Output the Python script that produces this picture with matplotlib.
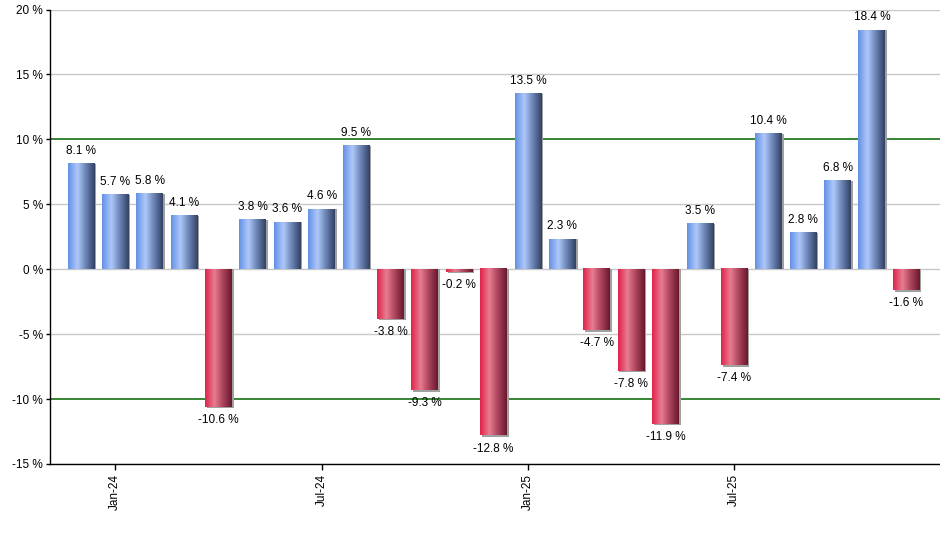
import matplotlib
matplotlib.use("Agg")
import matplotlib.pyplot as plt
import numpy as np
from matplotlib.colors import LinearSegmentedColormap
from matplotlib.patches import Rectangle

months = ["Dec-23", "Jan-24", "Feb-24", "Mar-24", "Apr-24", "May-24", "Jun-24", "Jul-24",
          "Aug-24", "Sep-24", "Oct-24", "Nov-24", "Dec-24", "Jan-25", "Feb-25", "Mar-25",
          "Apr-25", "May-25", "Jun-25", "Jul-25", "Aug-25", "Sep-25", "Oct-25", "Nov-25", "Dec-25"]
returns = [8.1, 5.7, 5.8, 4.1, -10.6, 3.8, 3.6, 4.6, 9.5, -3.8, -9.3, -0.2, -12.8,
           13.5, 2.3, -4.7, -7.8, -11.9, 3.5, -7.4, 10.4, 2.8, 6.8, 18.4, -1.6]
tick_labels = ["Jan-24", "Jul-24", "Jan-25", "Jul-25"]
y_ticks = [-15, -10, -5, 0, 5, 10, 15, 20]

plt.rcParams['font.family'] = ['Liberation Sans', 'DejaVu Sans']

fig = plt.figure(figsize=(9.4, 5.5), dpi=100)
ax = fig.add_axes([50/940, 86/550, 890/940, 454.5/550])

blue_cmap = LinearSegmentedColormap.from_list(
    "b", [(0.0, (100/255, 145/255, 230/255)), (0.35, (175/255, 200/255, 250/255)),
          (0.65, (110/255, 135/255, 185/255)), (1.0, (50/255, 65/255, 100/255))])
red_cmap = LinearSegmentedColormap.from_list(
    "r", [(0.0, (225/255, 35/255, 75/255)), (0.35, (232/255, 125/255, 145/255)),
          (0.65, (175/255, 70/255, 95/255)), (1.0, (105/255, 25/255, 45/255))])

grad = np.linspace(0, 1, 64).reshape(1, -1)
w = 0.78
x = np.arange(len(returns))
for xi, v in zip(x, returns):
    cmap = blue_cmap if v >= 0 else red_cmap
    lo, hi = (0, v) if v >= 0 else (v, 0)
    # shadow
    if v >= 0:
        ax.add_patch(Rectangle((xi - w/2 + 0.05, lo), w, hi - lo, color="#a0a0a0", zorder=2, lw=0))
    else:
        ax.add_patch(Rectangle((xi - w/2 + 0.05, lo - 0.12), w, hi - lo + 0.12, color="#a0a0a0", zorder=2, lw=0))
    ax.imshow(grad, cmap=cmap, extent=[xi - w/2, xi + w/2, lo, hi], aspect='auto',
              zorder=3, interpolation='bilinear')
    if v >= 0:
        ax.text(xi, v + 0.55, f"{v} %", ha='center', va='bottom', fontsize=8.5, zorder=4)
    else:
        ax.text(xi, v - 0.55, f"{v} %", ha='center', va='top', fontsize=8.5, zorder=4)

for yt in y_ticks:
    if abs(yt) == 10:
        ax.axhline(yt, color="#006400", lw=1.1, zorder=1)
    else:
        ax.axhline(yt, color="#c8c8c8", lw=1.0, zorder=1)

ax.set_xlim(-0.9, 24.98)
ax.set_ylim(-15, 20)
ax.set_yticks(y_ticks)
ax.set_yticklabels([f"{t} %" for t in y_ticks], fontsize=8.5)
tick_pos = [months.index(m) for m in tick_labels]
ax.set_xticks(tick_pos)
ax.set_xticklabels(tick_labels, rotation=90, fontsize=8.5)
ax.tick_params(axis='x', length=4, width=1, pad=3)
ax.tick_params(axis='y', length=3, width=1, pad=2)
for s in ["top", "right"]:
    ax.spines[s].set_visible(False)
for s in ["left", "bottom"]:
    ax.spines[s].set_color("black")
    ax.spines[s].set_linewidth(1.0)

fig.savefig("out.png", dpi=100)
